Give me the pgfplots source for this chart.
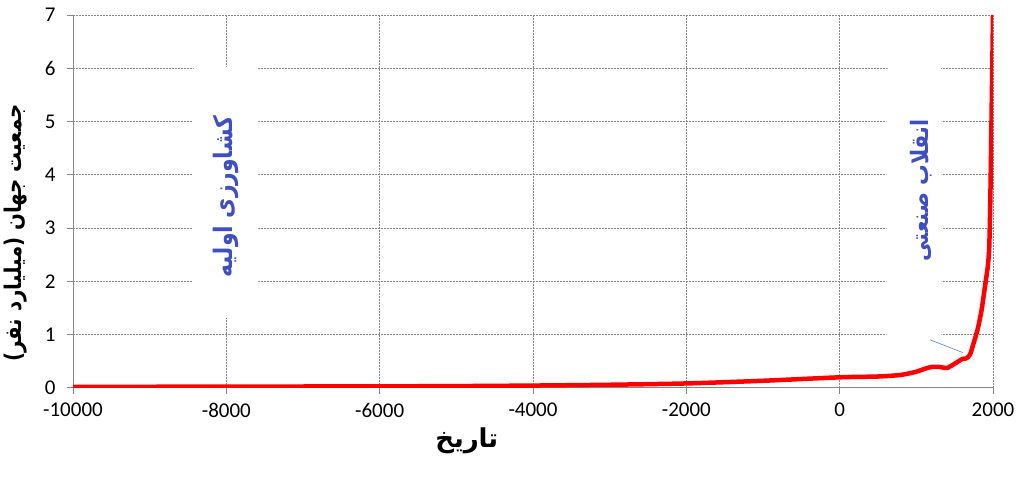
\documentclass[border=0pt]{standalone}
\usepackage{pgfplots}
\pgfplotsset{compat=1.18}
\usepackage{fontspec}
\setmainfont{Carlito}
\newfontfamily\arabicfont[Script=Arabic]{DejaVu Sans}
\newfontfamily\arabicnarrow[Script=Arabic, FakeStretch=0.86]{DejaVu Sans}
\TeXXeTstate=1
\definecolor{lblblue}{RGB}{63,79,192}
\definecolor{axgray}{RGB}{134,134,134}
\definecolor{pointer}{RGB}{91,127,191}

\begin{document}
\begin{tikzpicture}[x=1bp,y=1bp]
\begin{axis}[
    at={(73bp,94.3bp)}, anchor=south west,
    scale only axis, width=920bp, height=372.7bp,
    xmin=-10000, xmax=2000, ymin=0, ymax=7,
    xtick={-10000,-8000,...,2000}, ytick={0,1,...,7},
    axis x line*=bottom, axis y line*=left,
    axis line style={axgray, line width=0.8pt, -},
    tick align=outside, major tick length=6bp,
    tick style={axgray, line width=0.8pt},
    grid=major,
    major grid style={axgray, line width=0.6pt, dash pattern=on 2pt off 1pt},
    ticklabel style={font=\fontsize{21bp}{25bp}\selectfont},
    xticklabel style={yshift=-6bp},
    yticklabel style={xshift=-8bp},
    /pgf/number format/assume math mode=true,
    /pgf/number format/1000 sep={},
    scaled x ticks=false,
    xlabel={\arabicfont\bfseries\beginR تاریخ\endR},
    xlabel style={at={(axis description cs:0.428,-0.143)}, anchor=center,
        font=\fontsize{26bp}{30bp}\selectfont},
    ylabel={\arabicnarrow\bfseries\beginR جمعیت جهان (میلیارد نفر)\endR},
    ylabel style={at={(axis description cs:-0.062,0.415)}, anchor=center, rotate=0,
        font=\fontsize{23bp}{27bp}\selectfont},
]
% white boxes behind the two rotated captions
\fill[white, rounded corners=4bp] (axis cs:-8435,1.31) rectangle (axis cs:-7587,6.03);
\fill[white, rounded corners=4bp] (axis cs:613,0.93) rectangle (axis cs:1331,6.03);

\addplot[red, line width=4.5bp, smooth, tension=0.4] coordinates {
    (-10000,0.015) (-8000,0.02) (-6000,0.025) (-5000,0.03) (-4000,0.04)
    (-3000,0.055) (-2000,0.08) (-1000,0.13) (0,0.195) (500,0.21)
    (800,0.24) (1000,0.30) (1100,0.35) (1200,0.39) (1300,0.39)
    (1400,0.37) (1500,0.45) (1600,0.54) (1650,0.55) (1700,0.62)
    (1750,0.85) (1800,1.1) (1850,1.45) (1900,1.95) (1930,2.25)
    (1940,2.4) (1950,2.6) (1955,2.85) (1960,3.15) (1965,3.55)
    (1970,4.0) (1980,5.0) (1990,6.0) (2000,7.0)
};

\draw[pointer, line width=0.6pt] (axis cs:1178,0.90) -- (axis cs:1604,0.66);

\node[rotate=90, text=lblblue, font=\fontsize{25.5bp}{29bp}\selectfont]
    at (axis cs:-8000,3.59) {\arabicnarrow\bfseries\beginR کشاورزی اولیه\endR};
\node[rotate=90, text=lblblue, font=\fontsize{24bp}{28bp}\selectfont]
    at (axis cs:1067,3.70) {\arabicnarrow\bfseries\beginR انقلاب صنعتی\endR};
\end{axis}
\pgfresetboundingbox
\path (0,0) rectangle (1019,482);
\end{tikzpicture}
\end{document}
